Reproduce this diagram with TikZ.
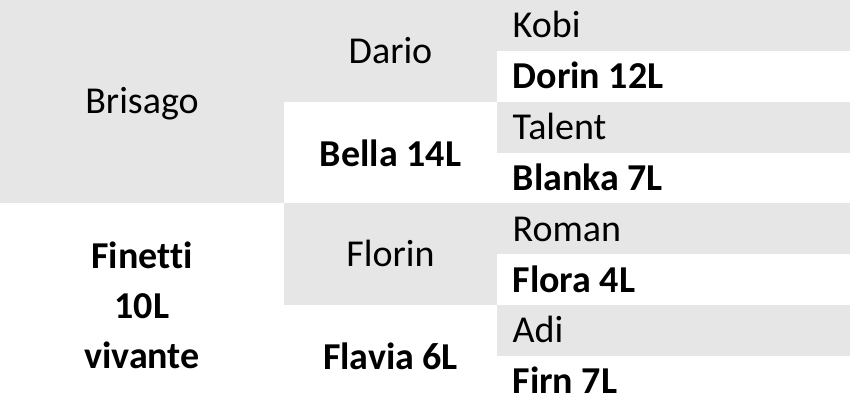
\documentclass[tikz,border=0pt]{standalone}
\usepackage{fontspec}
\setmainfont{Carlito}[Ligatures=NoCommon]
\usetikzlibrary{positioning}
\definecolor{cellgray}{RGB}{231,230,230}

\begin{document}
\begin{tikzpicture}[x=1pt,y=50.875pt,
  sirename/.style={font=\fontsize{38}{50}\selectfont,text height=24.5pt,text depth=0pt,inner sep=0pt},
  damname/.style={sirename,font=\fontsize{38}{50}\selectfont\bfseries}]
\useasboundingbox (0,0) rectangle (850,8);
% gray cells
\fill[cellgray] (0,4) rectangle (284,8); % brisago
\fill[cellgray] (284,6) rectangle (497,8); % dario
\fill[cellgray] (284,2) rectangle (497,4); % florin
\foreach \y in {1,3,5,7}
  \fill[cellgray] (497,\y) rectangle (850,\y+1); % grandsires
% Parents
\node[sirename] (brisago) at (142,6) {Brisago};
\node[damname,text height=,text depth=,align=center] (finetti) at (142,2) {Finetti\\10L\\vivante};
% Grandparents
\node[sirename] (dario) at (390.5,7) {Dario};
\node[damname] (bella) at (390.5,4.97) {Bella 14L};
\node[sirename] (florin) at (390.5,3) {Florin};
\node[damname] (flavia) at (390.5,0.97) {Flavia 6L};
% Great-grandparents
\node[sirename,anchor=west] (kobi) at (512.5,7.5) {Kobi};
\node[damname,anchor=west] (dorin) at (512.5,6.5) {Dorin 12L};
\node[sirename,anchor=west] (talent) at (512.5,5.5) {Talent};
\node[damname,anchor=west] (blanka) at (512.5,4.5) {Blanka 7L};
\node[sirename,anchor=west] (roman) at (512.5,3.5) {Roman};
\node[damname,anchor=west] (flora) at (512.5,2.5) {Flora 4L};
\node[sirename,anchor=west] (adi) at (512.5,1.5) {Adi};
\node[damname,anchor=west] (firn) at (512.5,0.5) {Firn 7L};
\end{tikzpicture}
\end{document}
